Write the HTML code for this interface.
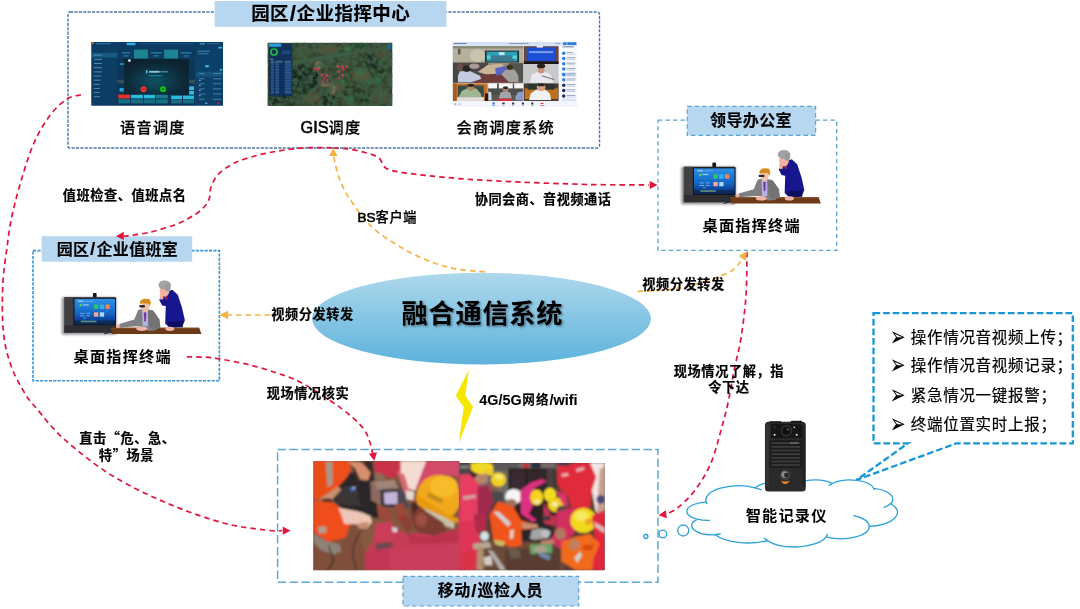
<!DOCTYPE html>
<html lang="zh-CN">
<head>
<meta charset="utf-8">
<title>融合通信系统</title>
<style>
html,body{margin:0;padding:0;background:#fff;}
body{width:1080px;height:609px;overflow:hidden;position:relative;font-family:"Liberation Sans","Noto Sans CJK SC",sans-serif;}
svg{position:absolute;left:0;top:0;}
text{font-family:"Liberation Sans","Noto Sans CJK SC",sans-serif;fill:#000;}
.cj{font-family:"Noto Sans CJK SC",sans-serif;}
.b{font-weight:bold;}
.l{font-size:13.2px;letter-spacing:0.58px;font-weight:bold;stroke:#000;stroke-width:0.2px;}
.l .la{font-size:13.6px;letter-spacing:0;}
.bs{font-weight:500;stroke-width:0.25px;}
.bs .la{font-weight:normal;stroke-width:0.6px;}
.g4 .la{font-size:14.4px;letter-spacing:0 !important;}
.m{font-size:15.2px;letter-spacing:1.2px;font-weight:bold;}
.mt{font-size:16px;letter-spacing:0.35px;font-weight:bold;stroke:#000;stroke-width:0.15px;}
.mt .la{font-size:16.3px;letter-spacing:0;}
.mt .sl{font-size:19px;letter-spacing:1.1px;}
.m5{font-size:15.2px;letter-spacing:1.2px;font-weight:500;stroke:#000;stroke-width:0.25px;}
.m5 .la{font-size:16.3px;letter-spacing:0;font-weight:normal;stroke-width:0.55px;}
.m .la{font-size:16.3px;letter-spacing:0;}
.t{font-size:18.5px;letter-spacing:0.45px;font-weight:bold;stroke:#000;stroke-width:0.15px;}
.t .la{font-size:19.2px;letter-spacing:0;}
.t .sl{font-size:22.5px;letter-spacing:0.6px;}
.m .sl{font-size:19px;letter-spacing:0.6px;}
.x{font-size:26.2px;letter-spacing:0.8px;font-weight:bold;}
.bu{font-family:"DejaVu Sans",sans-serif;font-size:21px;}
.r{font-size:15.5px;letter-spacing:0.7px;font-weight:normal;stroke:#000;stroke-width:0.2px;}
.red{fill:none;stroke:#e0143c;stroke-width:1.7;stroke-dasharray:5.5 4;}
.org{fill:none;stroke:#f6b342;stroke-width:1.7;stroke-dasharray:5.5 4;}
</style>
</head>
<body>
<svg width="1080" height="609" viewBox="0 0 1080 609">
<defs>
<linearGradient id="eg" x1="0" y1="0" x2="0" y2="1">
<stop offset="0" stop-color="#aed8ec"/>
<stop offset="1" stop-color="#5db2dc"/>
</linearGradient>
<filter id="ts" x="-10%" y="-20%" width="120%" height="150%">
<feDropShadow dx="1.3" dy="1.3" stdDeviation="1.1" flood-color="#000" flood-opacity="0.45"/>
</filter>
</defs>

<!-- BOXES -->
<g id="boxes" fill="none">
<rect x="68" y="12" width="531.5" height="136" rx="2" stroke="#4d75aa" stroke-width="1.4" stroke-dasharray="3.1 1.3"/>
<rect x="33" y="250.6" width="186.4" height="130.2" stroke="#3496d8" stroke-width="1.6" stroke-dasharray="3.1 1.3"/>
<rect x="658" y="120.1" width="178.7" height="130.3" stroke="#5ba3d0" stroke-width="1.3" stroke-dasharray="4.4 3.1"/>
<rect x="277.6" y="449.4" width="380.4" height="132.8" stroke="#5fa8da" stroke-width="1.5" stroke-dasharray="8.5 3.3"/>
</g>

<!-- TITLE BOXES -->
<rect x="214.7" y="1" width="231.7" height="25.8" fill="#b7d6f0"/>
<rect x="41.7" y="236.2" width="150.5" height="25.5" fill="#b7d6f0"/>
<rect x="687.2" y="106.4" width="128.4" height="29" fill="#b7d6f0" stroke="#5ba3d0" stroke-width="1.2" stroke-dasharray="4.5 3"/>
<rect x="403" y="576.3" width="175.7" height="29.7" fill="#b7d6f0" stroke="#5ba3d0" stroke-width="1.2" stroke-dasharray="4.5 3"/>

<!-- ELLIPSE -->
<ellipse cx="481.5" cy="318.6" rx="169.5" ry="45.8" fill="url(#eg)"/>

<!-- CALLOUT -->
<path d="M873.5 313.1 H1072.8 V443.3 H956.5 L856.4 480 L908 443.3 H873.5 Z" fill="#fff" stroke="#1797d6" stroke-width="2.3" stroke-dasharray="6.7 2.9" stroke-linejoin="miter"/>

<!-- CLOUD -->
<g fill="#fff" stroke="#2da1d8" stroke-width="1.3">
<path d="M706.0 502.0 A32.9 14.3 0 0 1 755.2 487.8 A26.0 11.3 0 0 1 796.4 485.0 A21.3 9.2 0 0 1 832.4 483.5 A23.7 10.2 0 0 1 873.7 488.3 A26.0 11.3 0 0 1 890.8 503.7 A33.0 14.3 0 0 1 869.3 526.5 A28.2 12.2 0 0 1 826.1 536.8 A32.9 14.3 0 0 1 767.3 540.6 A37.6 16.4 0 0 1 715.3 534.7 A21.2 9.2 0 0 1 697.3 519.3 A21.2 9.2 0 0 1 705.8 502.2Z"/>
<path d="M709.9 520.3 A21.2 9.2 0 0 1 697.5 519.1 M720.8 533.8 A21.2 9.2 0 0 1 715.4 534.4 M767.3 540.3 A32.9 14.3 0 0 1 764.0 537.6 M827.5 533.6 A32.9 14.3 0 0 1 826.2 536.6 M853.3 515.3 A28.2 12.2 0 0 1 869.1 526.4 M890.7 503.5 A26.0 11.3 0 0 1 883.6 507.7 M873.7 488.1 A23.7 10.2 0 0 1 874.1 490.1 M828.7 485.8 A23.7 10.2 0 0 1 832.3 483.3 M794.9 487.0 A21.3 9.2 0 0 1 796.6 484.9 M755.2 487.8 A32.9 14.3 0 0 1 761.6 489.8 M707.1 504.2 A32.9 14.3 0 0 1 706.0 502.0" fill="none"/>
<circle cx="683.2" cy="530.5" r="5.5"/>
<circle cx="662.8" cy="534" r="3.8"/>
<circle cx="645.9" cy="536.5" r="2"/>
</g>

<!-- IMAGES -->
<g id="imgs">
<defs>
<filter id="bl3" x="-5%" y="-5%" width="110%" height="110%"><feGaussianBlur stdDeviation="3"/></filter>
<filter id="bl5" x="-5%" y="-5%" width="110%" height="110%"><feGaussianBlur stdDeviation="4"/></filter>
<filter id="bl6" x="-5%" y="-5%" width="110%" height="110%"><feGaussianBlur stdDeviation="5"/></filter>
<filter id="bl12" x="-5%" y="-5%" width="110%" height="110%"><feGaussianBlur stdDeviation="10"/></filter>
<filter id="bl2" x="-5%" y="-5%" width="110%" height="110%"><feGaussianBlur stdDeviation="2.2"/></filter>
<filter id="noise" x="0" y="0" width="100%" height="100%"><feTurbulence type="fractalNoise" baseFrequency="0.025" numOctaves="3" seed="7"/><feColorMatrix type="matrix" values="0 0 0 0 0.05  0 0 0 0 0.11  0 0 0 0 0.06  3.2 0 0 0 -1.0"/></filter>
<filter id="msh" x="-15%" y="-15%" width="130%" height="130%"><feGaussianBlur stdDeviation="9"/></filter>
</defs>
<!-- voice dispatch screenshot -->
<clipPath id="cv"><rect x="40" y="30" width="1002" height="485"/></clipPath>
<g transform="translate(86 38) scale(0.13148)" clip-path="url(#cv)">
<g filter="url(#bl3)">
<rect x="20" y="10" width="1042" height="525" fill="#0b3558"/>
<rect x="40" y="30" width="1002" height="32" fill="#0a3a66"/>
<rect x="40" y="62" width="198" height="453" fill="#0c3c64"/>
<rect x="830" y="62" width="212" height="453" fill="#0c3f68"/>
<rect x="238" y="62" width="592" height="100" fill="#0b3a60"/>
<rect x="310" y="36" width="66" height="20" rx="4" fill="#2fb0dc"/>
<rect x="75" y="38" width="115" height="10" fill="#2d6fa3"/>
<rect x="400" y="40" width="420" height="9" fill="#1d5580" opacity=".8"/>
<rect x="865" y="38" width="40" height="12" fill="#3c8ab8"/>
<rect x="920" y="40" width="100" height="8" fill="#2a6a98"/>
<rect x="40" y="113" width="198" height="36" fill="#155a80"/>
<g fill="#4a86ad"><rect x="60" y="126" width="62" height="9"/><rect x="60" y="158" width="62" height="8"/><rect x="60" y="190" width="62" height="8"/><rect x="60" y="222" width="62" height="8"/><rect x="60" y="254" width="62" height="8"/><rect x="60" y="285" width="55" height="8"/><rect x="60" y="317" width="50" height="8"/><rect x="60" y="349" width="45" height="8"/><rect x="60" y="380" width="45" height="8"/><rect x="60" y="410" width="45" height="8"/><rect x="60" y="442" width="45" height="8"/></g>
<rect x="365" y="88" width="106" height="68" fill="#1c8391"/>
<rect x="594" y="88" width="106" height="68" fill="#1c8391"/>
<g fill="#2f7fae"><rect x="275" y="108" width="60" height="10"/><rect x="285" y="132" width="40" height="9"/><rect x="495" y="108" width="80" height="10"/><rect x="515" y="132" width="40" height="9"/><rect x="722" y="108" width="82" height="10"/><rect x="742" y="132" width="40" height="9"/></g>
<rect x="238" y="318" width="592" height="26" fill="#35505a"/>
<radialGradient id="vg" cx="0.48" cy="0.62" r="0.6"><stop offset="0" stop-color="#0f5263"/><stop offset="0.6" stop-color="#0a3040"/><stop offset="1" stop-color="#08222e"/></radialGradient>
<rect x="290" y="160" width="492" height="272" fill="url(#vg)"/>
<rect x="455" y="244" width="14" height="26" rx="6" fill="#3ec0e0"/>
<rect x="480" y="250" width="80" height="14" fill="#8fc4d8"/>
<rect x="565" y="252" width="58" height="10" fill="#4d90a8"/>
<rect x="476" y="282" width="104" height="9" fill="#1f7f9c"/>
<circle cx="330" cy="172" r="11" fill="#dfe6ea"/>
<rect x="258" y="190" width="32" height="16" fill="#1c7fb2"/>
<rect x="255" y="380" width="32" height="28" fill="#2a9fd0"/>
<circle cx="438" cy="390" r="23" fill="#ea3230"/>
<circle cx="586" cy="390" r="23" fill="#12c418"/>
<rect x="428" y="386" width="20" height="7" rx="3" fill="#b01818"/>
<rect x="576" y="383" width="20" height="14" rx="5" fill="#0a8a10"/>
<rect x="785" y="368" width="36" height="28" fill="#2ec0e0"/>
<rect x="785" y="402" width="36" height="28" fill="#2ec0e0"/>
<rect x="245" y="430" width="90" height="30" fill="#e8302c"/>
<rect x="342" y="432" width="91" height="27" fill="#2bbcdc"/>
<rect x="440" y="432" width="86" height="27" fill="#2bbcdc"/>
<rect x="532" y="432" width="90" height="27" fill="#1b7c8c"/>
<rect x="648" y="438" width="82" height="28" fill="#2bbcdc"/>
<rect x="738" y="438" width="83" height="28" fill="#2bbcdc"/>
<g fill="#15707f"><rect x="245" y="466" width="90" height="32"/><rect x="342" y="466" width="91" height="32"/><rect x="440" y="466" width="86" height="32"/><rect x="532" y="466" width="90" height="32"/><rect x="648" y="472" width="82" height="26"/><rect x="738" y="472" width="83" height="26"/></g>
<rect x="835" y="255" width="207" height="40" fill="#15537a"/>
<rect x="905" y="208" width="30" height="14" rx="6" fill="#3cc0e0"/>
<rect x="1005" y="66" width="30" height="14" rx="4" fill="#2fb0dc"/>
<rect x="1018" y="234" width="18" height="16" fill="#2fa0d0"/>
<g fill="#3f7fa6"><rect x="850" y="96" width="90" height="9"/><rect x="850" y="116" width="80" height="7"/><rect x="860" y="266" width="40" height="8"/><rect x="965" y="266" width="65" height="8"/><rect x="860" y="306" width="40" height="8"/><rect x="965" y="306" width="65" height="8"/><rect x="860" y="344" width="40" height="8"/><rect x="965" y="344" width="65" height="8"/><rect x="860" y="383" width="40" height="8"/><rect x="965" y="383" width="65" height="8"/><rect x="860" y="422" width="50" height="8"/><rect x="965" y="422" width="65" height="8"/><rect x="860" y="462" width="40" height="8"/><rect x="965" y="462" width="65" height="8"/></g>
<g fill="#b8d4e4"><rect x="860" y="320" width="12" height="6"/><rect x="860" y="358" width="12" height="6"/><rect x="860" y="397" width="12" height="6"/><rect x="860" y="436" width="12" height="6"/></g>
<circle cx="52" cy="40" r="8" fill="#d07a20"/>
<rect x="1002" y="490" width="10" height="12" fill="#d03040"/>
<rect x="905" y="492" width="18" height="10" fill="#3fb0e0"/>
</g>
</g>
<!-- GIS screenshot -->
<clipPath id="cg"><rect x="45" y="38" width="990" height="502"/></clipPath>
<g transform="translate(262 38) scale(0.12593)" clip-path="url(#cg)">
<rect x="45" y="38" width="990" height="502" fill="#34432e"/>
<g filter="url(#bl12)">
<rect x="45" y="38" width="990" height="502" fill="#34432e"/>
<ellipse cx="340" cy="320" rx="120" ry="110" fill="#13261b"/>
<ellipse cx="300" cy="400" rx="90" ry="70" fill="#1a3020"/>
<ellipse cx="150" cy="500" rx="110" ry="50" fill="#1c2c1e"/>
<ellipse cx="880" cy="200" rx="60" ry="85" fill="#1a2e20"/>
<ellipse cx="950" cy="270" rx="50" ry="40" fill="#22341f"/>
<ellipse cx="510" cy="500" rx="95" ry="50" fill="#182a1c"/>
<ellipse cx="780" cy="60" rx="55" ry="25" fill="#1f4a2a"/>
<ellipse cx="700" cy="420" rx="90" ry="50" fill="#22361f"/>
<ellipse cx="800" cy="470" rx="60" ry="40" fill="#1e3a22"/>
<ellipse cx="520" cy="95" rx="80" ry="40" fill="#5c5038"/>
<ellipse cx="330" cy="110" rx="70" ry="40" fill="#445034"/>
<ellipse cx="790" cy="300" rx="70" ry="50" fill="#5e5238"/>
<ellipse cx="600" cy="390" rx="60" ry="40" fill="#5e503a"/>
<ellipse cx="400" cy="480" rx="70" ry="35" fill="#5e4a34"/>
<ellipse cx="960" cy="120" rx="60" ry="50" fill="#4c4e34"/>
<ellipse cx="940" cy="470" rx="80" ry="50" fill="#484e34"/>
<ellipse cx="450" cy="215" rx="25" ry="25" fill="#b09a6a"/>
<ellipse cx="560" cy="400" rx="20" ry="50" fill="#8a7a5a"/>
<ellipse cx="500" cy="370" rx="40" ry="14" fill="#8a7458"/>
<ellipse cx="775" cy="268" rx="25" ry="28" fill="#2c8a4c"/>
<ellipse cx="850" cy="345" rx="25" ry="18" fill="#2a8048"/>
<ellipse cx="915" cy="335" rx="30" ry="22" fill="#2a7a44"/>
<ellipse cx="700" cy="490" rx="30" ry="35" fill="#2a7040"/>
<ellipse cx="640" cy="345" rx="18" ry="14" fill="#2f8a4a"/>
<ellipse cx="680" cy="85" rx="30" ry="20" fill="#3a7a4a"/>
<path d="M250 195 C400 170 520 150 720 118" stroke="#3f6e58" stroke-width="18" fill="none"/>
<ellipse cx="680" cy="200" rx="60" ry="35" fill="#404a32"/>
</g>
<rect x="45" y="38" width="990" height="502" filter="url(#noise)" opacity=".9"/>
<g filter="url(#bl3)">
<rect x="55" y="45" width="185" height="418" fill="#0c2e5c" opacity=".9"/>
<rect x="55" y="45" width="97" height="24" fill="#2b9fe4"/>
<circle cx="95" cy="111" r="25" fill="none" stroke="#1fd63a" stroke-width="11"/>
<rect x="155" y="98" width="70" height="30" fill="#1d4a7a"/>
<g fill="#6a9ac8"><rect x="62" y="163" width="28" height="8"/><rect x="70" y="184" width="25" height="9"/><rect x="105" y="184" width="60" height="8"/><rect x="180" y="184" width="50" height="8"/></g>
<g fill="#35639a" opacity=".9"><rect x="70" y="200" width="25" height="240"/><rect x="105" y="200" width="30" height="240"/><rect x="180" y="200" width="52" height="240"/></g>
<g fill="#0c2e5c" opacity=".75"><rect x="60" y="213" width="178" height="9"/><rect x="60" y="235" width="178" height="9"/><rect x="60" y="257" width="178" height="9"/><rect x="60" y="279" width="178" height="9"/><rect x="60" y="301" width="178" height="9"/><rect x="60" y="323" width="178" height="9"/><rect x="60" y="345" width="178" height="9"/><rect x="60" y="367" width="178" height="9"/><rect x="60" y="389" width="178" height="9"/><rect x="60" y="411" width="178" height="9"/></g>
<rect x="995" y="45" width="30" height="50" fill="#1c6a9a" opacity=".9"/>
<g fill="#ec3450"><circle cx="422" cy="245" r="11"/><circle cx="446" cy="252" r="9"/><circle cx="475" cy="292" r="10"/><circle cx="515" cy="298" r="11"/><circle cx="495" cy="320" r="9"/><circle cx="481" cy="348" r="9"/><circle cx="518" cy="335" r="9"/><circle cx="600" cy="227" r="10"/><circle cx="638" cy="228" r="10"/><circle cx="672" cy="226" r="9"/><circle cx="646" cy="250" r="10"/><circle cx="611" cy="268" r="9"/><circle cx="640" cy="296" r="9"/><circle cx="612" cy="320" r="9"/></g>
</g>
</g>
<!-- conference screenshot -->
<clipPath id="cc"><rect x="48" y="30" width="992" height="518"/></clipPath>
<g transform="translate(446 38) scale(0.12593)" clip-path="url(#cc)">
<rect x="48" y="30" width="992" height="518" fill="#eef2fa"/>
<g filter="url(#bl5)">
<rect x="28" y="10" width="1032" height="558" fill="#eef2fa"/>
<rect x="48" y="30" width="992" height="32" fill="#d4e0f6"/>
<rect x="930" y="33" width="28" height="22" rx="3" fill="#2b7be0"/>
<rect x="963" y="33" width="72" height="22" rx="3" fill="#2b7be0"/>
<rect x="62" y="40" width="100" height="8" fill="#6a7a98"/>
<rect x="500" y="40" width="155" height="8" fill="#8a98b4"/>
<rect x="865" y="40" width="40" height="7" fill="#a0acc4"/>
<!-- main video -->
<rect x="55" y="65" width="558" height="290" fill="#8f8c7c"/>
<rect x="55" y="65" width="558" height="135" fill="#b4b09c"/>
<ellipse cx="250" cy="140" rx="60" ry="50" fill="#c8c4b0"/>
<rect x="55" y="65" width="558" height="18" fill="#8a8878"/>
<rect x="310" y="100" width="270" height="95" fill="#1f2a30"/>
<rect x="322" y="108" width="245" height="78" fill="#2aa0b4"/>
<rect x="350" y="140" width="190" height="46" fill="#3a7a90"/>
<rect x="420" y="112" width="45" height="24" fill="#bfe6ee"/>
<rect x="325" y="138" width="30" height="28" fill="#56d0d8"/>
<rect x="528" y="138" width="36" height="28" fill="#56d0d8"/>
<rect x="55" y="195" width="280" height="160" fill="#4a4644"/>
<rect x="500" y="200" width="113" height="155" fill="#55524e"/>
<polygon points="250,270 330,215 440,205 470,230 360,300" fill="#c9b494"/>
<polygon points="230,300 360,285 520,290 560,355 230,355" fill="#6e3a38"/>
<polygon points="390,240 470,222 490,270 400,300" fill="#5a62c4"/>
<polygon points="95,300 110,265 190,262 270,300 280,325 200,352 95,352" fill="#c4cae0"/>
<ellipse cx="165" cy="245" rx="32" ry="24" fill="#2a2624"/>
<polygon points="440,290 470,255 545,250 575,300 575,352 500,352" fill="#a0a09c"/>
<ellipse cx="505" cy="232" rx="25" ry="20" fill="#3a3028"/>
<ellipse cx="110" cy="230" rx="22" ry="30" fill="#6a5048"/>
<ellipse cx="225" cy="225" rx="40" ry="22" fill="#a89a94"/>
<rect x="95" y="85" width="20" height="45" fill="#5a5850"/>
<!-- top-right -->
<rect x="618" y="65" width="276" height="142" fill="#6c4434"/>
<rect x="640" y="74" width="230" height="112" fill="#1e50d4"/>
<rect x="660" y="104" width="190" height="16" fill="#7a9aea"/>
<rect x="720" y="62" width="50" height="14" fill="#e8eef8"/>
<rect x="618" y="185" width="276" height="22" fill="#1f1518"/>
<!-- mid-right -->
<rect x="618" y="207" width="276" height="153" fill="#c9c9cb"/>
<polygon points="668,355 680,290 720,272 800,272 835,295 850,355" fill="#e8e8ee"/>
<ellipse cx="755" cy="250" rx="28" ry="32" fill="#c4957c"/>
<ellipse cx="755" cy="222" rx="33" ry="18" fill="#252020"/>
<path d="M760 300 L860 330" stroke="#444" stroke-width="6"/>
<!-- bottom-left -->
<rect x="55" y="360" width="276" height="140" fill="#c6722a"/>
<rect x="95" y="378" width="205" height="95" rx="12" fill="#3c4c44"/>
<polygon points="100,470 125,420 170,400 240,402 275,440 285,475" fill="#9bb892"/>
<ellipse cx="197" cy="392" rx="26" ry="28" fill="#b48868"/>
<ellipse cx="197" cy="375" rx="27" ry="12" fill="#2a2420"/>
<rect x="85" y="470" width="215" height="30" fill="#e4dcd8"/>
<rect x="55" y="360" width="30" height="140" fill="#a85c20"/>
<!-- bottom-mid -->
<rect x="335" y="360" width="278" height="140" fill="#5a5854"/>
<rect x="335" y="360" width="70" height="42" fill="#f6f6f4"/>
<rect x="420" y="360" width="110" height="42" fill="#f6f6f4"/>
<rect x="542" y="360" width="71" height="42" fill="#f6f6f4"/>
<rect x="335" y="402" width="278" height="50" fill="#4c4e4c"/>
<polygon points="420,480 432,432 470,420 510,432 522,480" fill="#a2a6aa"/>
<ellipse cx="473" cy="408" rx="22" ry="22" fill="#b08870"/>
<ellipse cx="473" cy="396" rx="22" ry="10" fill="#2a2622"/>
<polygon points="335,425 360,430 362,495 335,495" fill="#d8d8d8"/>
<polygon points="550,470 570,430 613,425 613,495 555,495" fill="#8a9cc4"/>
<rect x="410" y="482" width="112" height="18" fill="#d43030"/>
<rect x="310" y="440" width="25" height="60" fill="#1c1a1a"/>
<!-- bottom-right -->
<rect x="618" y="360" width="276" height="140" fill="#4a3a30"/>
<rect x="625" y="400" width="265" height="85" fill="#c0701e"/>
<rect x="650" y="365" width="210" height="45" fill="#2c3430"/>
<polygon points="660,492 672,440 715,410 790,410 825,440 835,492" fill="#f2f2f2"/>
<ellipse cx="755" cy="392" rx="34" ry="30" fill="#d8a080"/>
<ellipse cx="755" cy="372" rx="30" ry="12" fill="#2a2220"/>
<!-- sidebar -->
<rect x="900" y="62" width="140" height="445" fill="#f8fafe"/>
<rect x="915" y="274" width="120" height="32" fill="#cfe0fa"/>
<g fill="#2f7fe2"><circle cx="935" cy="121" r="14"/><circle cx="935" cy="162" r="14"/><circle cx="935" cy="205" r="14"/><circle cx="935" cy="247" r="14"/><circle cx="935" cy="290" r="14"/><circle cx="935" cy="331" r="14"/></g>
<g fill="#1c2e62"><circle cx="935" cy="375" r="14"/><circle cx="935" cy="417" r="14"/><circle cx="935" cy="461" r="14"/></g>
<g fill="#8a96b0"><rect x="958" y="112" width="50" height="7"/><rect x="958" y="153" width="70" height="7"/><rect x="958" y="196" width="70" height="7"/><rect x="958" y="238" width="70" height="7"/><rect x="958" y="281" width="70" height="7"/><rect x="958" y="322" width="70" height="7"/><rect x="958" y="366" width="70" height="7"/><rect x="958" y="408" width="70" height="7"/><rect x="958" y="452" width="70" height="7"/></g>
<g fill="#b4bed4"><rect x="958" y="126" width="70" height="6"/><rect x="958" y="167" width="70" height="6"/><rect x="958" y="210" width="70" height="6"/><rect x="958" y="252" width="70" height="6"/><rect x="958" y="295" width="70" height="6"/><rect x="958" y="336" width="70" height="6"/><rect x="958" y="380" width="70" height="6"/><rect x="958" y="422" width="70" height="6"/><rect x="958" y="466" width="70" height="6"/></g>
<rect x="925" y="66" width="90" height="8" fill="#6a7a98"/>
<rect x="920" y="482" width="115" height="20" fill="#d8e4f8"/>
<!-- toolbar -->
<rect x="48" y="505" width="992" height="43" fill="#f2f5fb"/>
<rect x="370" y="510" width="16" height="18" fill="#2b7be0"/>
<rect x="366" y="534" width="24" height="6" fill="#5a96e6"/>
<g fill="#3a3e50"><rect x="446" y="512" width="20" height="14"/><rect x="524" y="512" width="18" height="16"/><rect x="602" y="512" width="18" height="16"/><rect x="676" y="512" width="18" height="16"/></g>
<g fill="#9098a8"><rect x="446" y="534" width="20" height="5"/><rect x="524" y="534" width="18" height="5"/><rect x="602" y="534" width="18" height="5"/><rect x="676" y="534" width="18" height="5"/></g>
<rect x="752" y="516" width="22" height="8" fill="#e03030"/>
<rect x="745" y="533" width="36" height="6" fill="#e86060"/>
<rect x="68" y="520" width="12" height="10" fill="#8088a0"/>
<rect x="92" y="522" width="28" height="6" fill="#a0a8b8"/>
</g>
</g>
<!-- photo 1 -->
<clipPath id="cp1"><rect x="27" y="30" width="742" height="555"/></clipPath>
<g transform="translate(308 455) scale(0.19697)" clip-path="url(#cp1)">
<rect x="27" y="30" width="742" height="555" fill="#82523c"/>
<g filter="url(#bl6)">
<rect x="0" y="0" width="800" height="620" fill="#82523c"/>
<polygon points="27,330 300,330 300,585 27,585" fill="#80503a"/>
<ellipse cx="200" cy="540" rx="120" ry="50" fill="#80503a"/>
<polygon points="230,330 500,330 470,470 300,520" fill="#86583f"/>
<!-- dark equipment -->
<polygon points="120,120 330,60 360,320 200,300 130,230" fill="#2c2628"/>
<polygon points="215,30 330,30 330,130 250,140" fill="#3a2c2a"/>
<polygon points="130,170 260,150 270,260 150,250" fill="#3a3436"/>
<ellipse cx="225" cy="175" rx="14" ry="12" fill="#3a5a9a"/>
<ellipse cx="232" cy="168" rx="8" ry="6" fill="#a8c0e8"/>
<!-- top-left orange -->
<polygon points="27,30 205,30 218,70 200,110 150,165 60,222 27,222" fill="#ef4e1e"/>
<polygon points="88,35 125,35 125,150 100,165" fill="#a89888"/>
<polygon points="40,40 90,40 90,200 40,215" fill="#e84e18"/>
<!-- top arm skin -->
<polygon points="200,30 275,38 318,90 305,130 265,125 240,70" fill="#d88f6e"/>
<polygon points="60,222 150,160 170,175 110,240 75,250" fill="#c89070"/>
<rect x="70" y="222" width="50" height="25" fill="#2a2626"/>
<!-- left sleeve orange -->
<polygon points="27,228 120,240 160,265 215,350 190,420 100,442 27,390" fill="#ef4e1e"/>
<polygon points="50,365 90,360 95,395 55,400" fill="#b0a090"/>
<!-- forearm -->
<polygon points="155,268 250,285 315,305 325,340 300,372 260,372 250,350 185,352" fill="#eec6b8"/>
<polygon points="255,345 310,340 300,375 262,375" fill="#c88a70"/>
<!-- boot -->
<polygon points="27,400 100,440 160,450 170,490 130,505 60,480 27,440" fill="#8c8278"/>
<path d="M105 460 C120 520 150 540 95 585" stroke="#2a2422" stroke-width="6" fill="none"/>
<path d="M270 380 C230 450 210 500 250 585" stroke="#3a3030" stroke-width="6" fill="none"/>
<!-- device -->
<polygon points="315,135 440,125 470,175 465,270 380,262 320,230" fill="#8c6a60"/>
<polygon points="335,135 440,128 455,165 350,172" fill="#a08478"/>
<polygon points="368,178 465,174 465,268 372,262" fill="#2a2a32"/>
<polygon points="385,190 455,186 455,250 388,250" fill="#c4b4dc"/>
<polygon points="440,125 490,190 515,270 468,270 468,175" fill="#4a4858"/>
<polygon points="250,140 315,135 320,230 345,320 290,300 260,230" fill="#2a262a"/>
<!-- top middle reds -->
<polygon points="335,30 480,30 470,80 430,120 380,100 340,95" fill="#c8304c"/>
<polygon points="335,90 380,95 395,125 340,130" fill="#8a6a5a"/>
<polygon points="470,30 610,30 590,110 545,180 500,170 470,110" fill="#f4dcd2"/>
<polygon points="450,80 490,100 520,200 490,190" fill="#d86a70"/>
<polygon points="600,30 768,30 768,110 680,100 580,140 545,175" fill="#d2486a"/>
<polygon points="495,180 540,185 535,230 500,225" fill="#e8d8d0"/>
<!-- helmet -->
<ellipse cx="662" cy="218" rx="112" ry="118" fill="#f2a81a"/>
<ellipse cx="690" cy="160" rx="70" ry="55" fill="#f8bc2c"/>
<polygon points="545,205 600,230 700,300 760,320 765,345 690,330 600,280 550,235" fill="#e89a10"/>
<polygon points="610,190 685,225 680,248 605,212" fill="#c08a20"/>
<polygon points="590,270 680,310 745,345 740,375 670,350 600,310" fill="#c8c0a8"/>
<!-- face -->
<polygon points="545,240 600,285 690,345 700,390 640,410 560,395 525,340 520,290" fill="#7c3c30"/>
<ellipse cx="575" cy="330" rx="30" ry="35" fill="#9a5040"/>
<polygon points="520,250 550,235 560,270 530,300" fill="#4a2a28"/>
<!-- hands -->
<polygon points="350,250 400,265 430,300 420,340 380,335 355,300" fill="#9c4a3c"/>
<polygon points="440,255 480,240 500,290 495,330 460,320 445,290" fill="#9a4838"/>
<polygon points="455,320 500,300 530,370 500,390" fill="#8a4034"/>
<path d="M460 325 L498 308" stroke="#c02838" stroke-width="6"/>
<!-- jacket -->
<polygon points="290,585 290,500 330,440 345,350 420,338 440,370 500,400 560,395 640,410 768,370 768,585" fill="#c63a56"/>
<polygon points="345,350 420,338 435,370 440,420 380,450 340,430" fill="#cc3e5a"/>
<polygon points="500,400 600,420 760,380 768,440 520,450" fill="#ba304c"/>
<polygon points="340,450 420,440 435,465 350,490" fill="#6a4a50"/>
<polygon points="420,480 768,450 768,585 400,585" fill="#ca3e5c"/>
<polygon points="290,500 400,470 420,585 290,585" fill="#c23654"/>
<polygon points="425,365 455,370 450,395 430,390" fill="#d8d0e0"/>
<!-- right edge -->
<polygon points="768,95 800,95 800,620 768,620" fill="#e04070"/>
</g>
</g>
<!-- photo 2 -->
<clipPath id="cp2"><rect x="27" y="40" width="738" height="545"/></clipPath>
<g transform="translate(454 455) scale(0.19697)" clip-path="url(#cp2)">
<rect x="27" y="40" width="738" height="545" fill="#5c3c32"/>
<g filter="url(#bl6)">
<rect x="0" y="0" width="800" height="620" fill="#5c3c32"/>
<rect x="27" y="40" width="260" height="200" fill="#6c6a68"/>
<rect x="27" y="40" width="60" height="60" fill="#4a4644"/>
<rect x="200" y="40" width="340" height="40" fill="#5a5a58"/>
<rect x="330" y="40" width="180" height="25" fill="#7a6a6a"/>
<rect x="350" y="42" width="30" height="25" fill="#c03040"/>
<rect x="390" y="40" width="50" height="25" fill="#2a3040"/>
<!-- cabinet -->
<rect x="275" y="68" width="240" height="270" fill="#2a2023"/>
<rect x="290" y="80" width="70" height="95" fill="#3a2c30"/>
<rect x="375" y="80" width="80" height="95" fill="#35282c"/>
<rect x="470" y="70" width="40" height="110" fill="#4a4040"/>
<!-- ground -->
<polygon points="130,440 560,400 560,585 130,585" fill="#6a4a38"/>
<polygon points="260,480 540,470 540,585 260,585" fill="#5a3c30"/>
<rect x="345" y="330" width="160" height="110" fill="#2c2628"/>
<!-- left worker -->
<polygon points="27,100 100,95 130,130 140,300 110,420 135,500 100,585 27,585" fill="#e63c60"/>
<polygon points="27,340 110,330 135,440 120,585 27,585" fill="#de3456"/>
<polygon points="45,210 110,200 112,218 48,228" fill="#d0a0a0"/>
<ellipse cx="140" cy="118" rx="33" ry="30" fill="#b8846a"/>
<ellipse cx="100" cy="85" rx="20" ry="30" fill="#3a2a28"/>
<polygon points="82,42 185,40 200,95 150,80 90,62" fill="#f2d222"/>
<ellipse cx="142" cy="66" rx="58" ry="30" fill="#f4d828"/>
<polygon points="150,70 200,75 200,104 168,100" fill="#f0cc20"/>
<rect x="27" y="55" width="50" height="12" fill="#8a8a88"/>
<!-- second worker -->
<polygon points="120,160 190,150 205,230 170,300 160,380 120,380" fill="#a02a50"/>
<polygon points="100,300 160,300 165,390 110,390" fill="#b02c4c"/>
<ellipse cx="200" cy="160" rx="25" ry="28" fill="#8a5a48"/>
<ellipse cx="226" cy="125" rx="38" ry="36" fill="#f2d020"/>
<ellipse cx="228" cy="112" rx="22" ry="14" fill="#f8e870"/>
<polygon points="190,180 250,190 250,240 200,240" fill="#4a4848"/>
<!-- white helmet -->
<ellipse cx="303" cy="210" rx="43" ry="38" fill="#f6f6f6"/>
<ellipse cx="290" cy="245" rx="28" ry="22" fill="#a07058"/>
<!-- orange worker -->
<polygon points="180,305 225,235 300,262 340,330 400,350 400,375 340,380 345,460 290,470 200,430" fill="#f0551c"/>
<polygon points="200,290 225,285 290,345 275,365" fill="#d0d0d0"/>
<polygon points="285,380 305,380 300,425 282,425" fill="#e0d0c0"/>
<polygon points="200,430 260,440 250,465 210,455" fill="#c8c060"/>
<polygon points="340,345 420,350 430,370 350,375" fill="#c89070"/>
<polygon points="270,470 330,480 340,520 290,525" fill="#6a5a4a"/>
<!-- pink worker -->
<polygon points="335,180 390,140 450,122 470,135 410,165 400,210 400,260 380,300 420,330 400,340 340,300" fill="#da3080"/>
<ellipse cx="420" cy="215" rx="33" ry="40" fill="#f4d41c"/>
<ellipse cx="422" cy="238" rx="16" ry="12" fill="#f8e890"/>
<ellipse cx="487" cy="202" rx="32" ry="36" fill="#f4dc20"/>
<ellipse cx="517" cy="252" rx="40" ry="38" fill="#f2d01c"/>
<ellipse cx="512" cy="250" rx="15" ry="12" fill="#f8f0b0"/>
<polygon points="520,180 570,200 580,270 545,240" fill="#e03070"/>
<polygon points="455,240 490,300 480,350 455,340" fill="#c83058"/>
<ellipse cx="545" cy="285" rx="25" ry="28" fill="#5a4a48"/>
<!-- top right red workers -->
<polygon points="525,42 690,40 722,110 700,180 690,270 600,280 580,210 545,180 525,140" fill="#e22a3c"/>
<polygon points="545,95 580,90 582,105 548,112" fill="#e0b0b0"/>
<polygon points="620,70 660,60 662,75 622,88" fill="#e0b0b0"/>
<rect x="530" y="40" width="60" height="15" fill="#3a3a50"/>
<polygon points="690,40 765,40 765,290 720,290 700,180 722,110" fill="#f4e6e4"/>
<polygon points="740,70 765,60 765,300 725,300" fill="#c8a090"/>
<ellipse cx="745" cy="225" rx="22" ry="22" fill="#4a4a7a"/>
<!-- pink right-center -->
<polygon points="520,290 610,265 625,330 610,400 560,440 540,480 490,430 520,380" fill="#d22e60"/>
<polygon points="455,300 520,310 515,360 460,350" fill="#c03050"/>
<ellipse cx="470" cy="320" rx="22" ry="12" fill="#3a3a40"/>
<ellipse cx="540" cy="400" rx="28" ry="30" fill="#b0785e"/>
<polygon points="440,435 500,425 510,450 445,460" fill="#c08068"/>
<!-- big yellow helmet -->
<ellipse cx="657" cy="332" rx="66" ry="63" fill="#f2d81a"/>
<ellipse cx="645" cy="310" rx="35" ry="25" fill="#f8ea60"/>
<polygon points="665,330 705,320 700,350 670,355" fill="#e8a020"/>
<!-- red right edge -->
<polygon points="700,310 765,278 765,585 700,585 720,450" fill="#e2283c"/>
<polygon points="715,340 765,370 765,400 712,362" fill="#e0b8b8"/>
<!-- orange worker br -->
<polygon points="545,440 600,420 690,400 740,450 710,520 700,585 620,585 545,540" fill="#f26a1c"/>
<ellipse cx="610" cy="455" rx="28" ry="28" fill="#c08060"/>
<polygon points="610,520 640,490 650,510 625,550" fill="#d0d0c8"/>
<polygon points="650,460 710,455 700,485 660,485" fill="#d84a10"/>
<!-- gray + green items -->
<polygon points="395,380 445,372 490,385 480,420 410,432 385,425" fill="#a4a4a6"/>
<ellipse cx="465" cy="400" rx="22" ry="20" fill="#c0c0c4"/>
<polygon points="385,455 495,452 500,498 388,502" fill="#68a468"/>
<ellipse cx="440" cy="478" rx="35" ry="16" fill="#b0a090"/>
<polygon points="430,495 490,510 485,535 435,515" fill="#6a8ab0"/>
<!-- tripod -->
<ellipse cx="155" cy="412" rx="22" ry="24" fill="#cfe4e4"/>
<polygon points="95,450 180,440 190,470 100,480" fill="#b8a890"/>
<polygon points="120,470 150,470 150,585 115,585" fill="#b09070"/>
<polygon points="170,480 200,490 265,585 235,585" fill="#b0aca8"/>
<polygon points="150,520 190,510 195,560 155,560" fill="#d0ccc4"/>
<polygon points="40,500 100,480 110,560 50,585" fill="#d8304a"/>
</g>
<!-- left sliver (part of photo 1 edge) -->
</g>
<!-- desk terminal clipart -->
<defs>
<linearGradient id="scr" x1="0" y1="0" x2="0" y2="1"><stop offset="0" stop-color="#2f92e6"/><stop offset="0.55" stop-color="#1468c8"/><stop offset="1" stop-color="#0a2e7c"/></linearGradient>
</defs>
<g transform="translate(676 140) scale(0.14259)">
<rect x="36" y="186" width="384" height="266" rx="12" fill="#000" opacity=".4" filter="url(#msh)"/>
<g filter="url(#bl2)">
<rect x="255" y="158" width="26" height="34" rx="8" fill="#151515"/>
<rect x="55" y="188" width="362" height="248" rx="8" fill="#38383b"/>
<rect x="55" y="188" width="66" height="248" fill="#404043"/>
<rect x="118" y="192" width="298" height="194" fill="#151518"/>
<rect x="126" y="199" width="284" height="178" fill="url(#scr)"/>
<rect x="126" y="352" width="284" height="25" fill="#0c2a5a"/>
<rect x="170" y="352" width="110" height="12" fill="#5a8a7a"/>
<rect x="55" y="386" width="362" height="50" fill="#2e2e31"/>
<circle cx="170" cy="245" r="9" fill="#62d444"/>
<rect x="186" y="238" width="40" height="8" fill="#a0d0f8"/>
<rect x="150" y="212" width="40" height="8" fill="#b0d8f8"/>
<rect x="200" y="214" width="60" height="5" fill="#70b0f0"/>
<rect x="262" y="240" width="31" height="31" rx="5" fill="#2ec468"/>
<rect x="303" y="240" width="31" height="31" rx="5" fill="#32b0ee"/>
<rect x="343" y="240" width="31" height="31" rx="5" fill="#f0845a"/>
<rect x="262" y="294" width="31" height="31" rx="5" fill="#f4a696"/>
<rect x="303" y="294" width="31" height="31" rx="5" fill="#a8d6f6"/>
<g fill="#7ab8f0"><rect x="165" y="298" width="32" height="6"/><rect x="208" y="298" width="28" height="6"/><rect x="165" y="316" width="32" height="6"/><rect x="208" y="316" width="28" height="6"/><rect x="188" y="332" width="20" height="5"/></g>
<!-- desk -->
<polygon points="382,402 1000,402 1016,446 386,446" fill="#6b3a18"/>
<polygon points="382,402 1000,402 1003,410 383,410" fill="#7c4822"/>
<path d="M335 445 L385 432" stroke="#222" stroke-width="7"/>
<!-- seated man -->
<polygon points="440,376 545,345 572,278 610,268 675,280 718,340 728,398 690,422 640,425 625,398 560,392 440,402" fill="#808082"/>
<polygon points="600,285 642,285 640,392 605,392" fill="#b4b4e4"/>
<polygon points="612,295 629,295 627,355 616,360" fill="#7c2ea0"/>
<polygon points="640,285 680,285 722,345 728,400 690,420 650,395" fill="#737375"/>
<ellipse cx="622" cy="258" rx="28" ry="32" fill="#f0c0a0"/>
<polygon points="585,215 610,198 650,200 662,225 655,250 640,232 600,232 588,240" fill="#d48c1e"/>
<rect x="580" y="243" width="40" height="17" rx="6" fill="#2c2c3c"/>
<ellipse cx="598" cy="410" rx="40" ry="15" fill="#f2b4a4"/>
<ellipse cx="430" cy="390" rx="13" ry="13" fill="#f2b4a4"/>
<!-- standing man -->
<polygon points="720,205 745,175 775,148 812,135 850,170 880,262 900,350 882,396 790,400 762,372 766,250 740,246" fill="#17178e"/>
<polygon points="780,360 885,355 885,398 790,400" fill="#0f0f60"/>
<polygon points="762,160 780,155 775,205 764,200" fill="#c02040"/>
<ellipse cx="757" cy="145" rx="34" ry="40" fill="#f2b2a2"/>
<polygon points="722,170 745,160 750,200 728,205" fill="#f2b2a2"/>
<ellipse cx="758" cy="102" rx="44" ry="32" fill="#a2a2a4"/>
<ellipse cx="780" cy="120" rx="20" ry="25" fill="#9a9a9c"/>
<ellipse cx="795" cy="410" rx="32" ry="15" fill="#f2b4a4"/>
</g>
</g>
<g transform="translate(56.56 270.4) scale(0.14259)">
<rect x="36" y="186" width="384" height="266" rx="12" fill="#000" opacity=".4" filter="url(#msh)"/>
<g filter="url(#bl2)">
<rect x="255" y="158" width="26" height="34" rx="8" fill="#151515"/>
<rect x="55" y="188" width="362" height="248" rx="8" fill="#38383b"/>
<rect x="55" y="188" width="66" height="248" fill="#404043"/>
<rect x="118" y="192" width="298" height="194" fill="#151518"/>
<rect x="126" y="199" width="284" height="178" fill="url(#scr)"/>
<rect x="126" y="352" width="284" height="25" fill="#0c2a5a"/>
<rect x="170" y="352" width="110" height="12" fill="#5a8a7a"/>
<rect x="55" y="386" width="362" height="50" fill="#2e2e31"/>
<circle cx="170" cy="245" r="9" fill="#62d444"/>
<rect x="186" y="238" width="40" height="8" fill="#a0d0f8"/>
<rect x="150" y="212" width="40" height="8" fill="#b0d8f8"/>
<rect x="200" y="214" width="60" height="5" fill="#70b0f0"/>
<rect x="262" y="240" width="31" height="31" rx="5" fill="#2ec468"/>
<rect x="303" y="240" width="31" height="31" rx="5" fill="#32b0ee"/>
<rect x="343" y="240" width="31" height="31" rx="5" fill="#f0845a"/>
<rect x="262" y="294" width="31" height="31" rx="5" fill="#f4a696"/>
<rect x="303" y="294" width="31" height="31" rx="5" fill="#a8d6f6"/>
<g fill="#7ab8f0"><rect x="165" y="298" width="32" height="6"/><rect x="208" y="298" width="28" height="6"/><rect x="165" y="316" width="32" height="6"/><rect x="208" y="316" width="28" height="6"/><rect x="188" y="332" width="20" height="5"/></g>
<!-- desk -->
<polygon points="382,402 1000,402 1016,446 386,446" fill="#6b3a18"/>
<polygon points="382,402 1000,402 1003,410 383,410" fill="#7c4822"/>
<path d="M335 445 L385 432" stroke="#222" stroke-width="7"/>
<!-- seated man -->
<polygon points="440,376 545,345 572,278 610,268 675,280 718,340 728,398 690,422 640,425 625,398 560,392 440,402" fill="#808082"/>
<polygon points="600,285 642,285 640,392 605,392" fill="#b4b4e4"/>
<polygon points="612,295 629,295 627,355 616,360" fill="#7c2ea0"/>
<polygon points="640,285 680,285 722,345 728,400 690,420 650,395" fill="#737375"/>
<ellipse cx="622" cy="258" rx="28" ry="32" fill="#f0c0a0"/>
<polygon points="585,215 610,198 650,200 662,225 655,250 640,232 600,232 588,240" fill="#d48c1e"/>
<rect x="580" y="243" width="40" height="17" rx="6" fill="#2c2c3c"/>
<ellipse cx="598" cy="410" rx="40" ry="15" fill="#f2b4a4"/>
<ellipse cx="430" cy="390" rx="13" ry="13" fill="#f2b4a4"/>
<!-- standing man -->
<polygon points="720,205 745,175 775,148 812,135 850,170 880,262 900,350 882,396 790,400 762,372 766,250 740,246" fill="#17178e"/>
<polygon points="780,360 885,355 885,398 790,400" fill="#0f0f60"/>
<polygon points="762,160 780,155 775,205 764,200" fill="#c02040"/>
<ellipse cx="757" cy="145" rx="34" ry="40" fill="#f2b2a2"/>
<polygon points="722,170 745,160 750,200 728,205" fill="#f2b2a2"/>
<ellipse cx="758" cy="102" rx="44" ry="32" fill="#a2a2a4"/>
<ellipse cx="780" cy="120" rx="20" ry="25" fill="#9a9a9c"/>
<ellipse cx="795" cy="410" rx="32" ry="15" fill="#f2b4a4"/>
</g>
</g>
<!-- body camera -->
<g transform="translate(745 410) scale(0.14787)">
<g filter="url(#bl2)">
<rect x="135" y="80" width="276" height="472" rx="24" fill="#2b2b2c"/>
<rect x="165" y="76" width="80" height="14" rx="4" fill="#1a1a1a"/>
<rect x="310" y="72" width="75" height="18" rx="5" fill="#1a1a1a"/>
<rect x="142" y="100" width="18" height="420" fill="#353536"/>
<rect x="388" y="100" width="18" height="420" fill="#222223"/>
<rect x="175" y="95" width="212" height="96" rx="8" fill="#141415"/>
<circle cx="280" cy="140" r="40" fill="#2e2e30"/>
<circle cx="280" cy="140" r="27" fill="#101012"/>
<circle cx="290" cy="132" r="9" fill="#4a4a50"/>
<circle cx="200" cy="168" r="7" fill="#d8d8d8"/>
<circle cx="333" cy="117" r="6" fill="#d0d0d0"/>
<circle cx="350" cy="168" r="7" fill="#d8d8d8"/>
<circle cx="200" cy="117" r="7" fill="#3a3a3c"/>
<rect x="165" y="205" width="222" height="188" rx="10" fill="#1c1c1d"/>
<g fill="#3c3c3e"><rect x="178" y="218" width="196" height="12"/><rect x="178" y="243" width="196" height="12"/><rect x="178" y="268" width="196" height="12"/><rect x="178" y="293" width="196" height="12"/><rect x="178" y="318" width="196" height="12"/><rect x="178" y="343" width="196" height="12"/><rect x="178" y="366" width="196" height="12"/></g>
<rect x="305" y="218" width="55" height="10" fill="#6a6a6c"/>
<circle cx="272" cy="440" r="36" fill="#404042"/>
<circle cx="268" cy="436" r="22" fill="#8a8a8c"/>
<circle cx="280" cy="440" r="16" fill="#2a2a2c"/>
<path d="M244 476 Q272 492 302 476 Q290 500 272 500 Q254 500 244 476Z" fill="#f28c1e"/>
</g>
</g>

</g>

<!-- CURVES -->
<g id="curves">
<path class="red" d="M81.0 94.8 C78.7 95.5 72.1 95.6 67.0 99.0 C61.9 102.4 55.9 107.5 50.3 115.0 C44.7 122.5 38.6 132.2 33.5 144.0 C28.4 155.8 23.3 173.4 19.6 186.0 C15.9 198.6 13.3 209.4 11.2 219.7 C9.1 230.0 8.4 236.8 7.0 247.6 C5.6 258.4 3.4 270.6 2.8 284.7 C2.2 298.8 2.0 318.5 3.4 332.0 C4.8 345.5 7.4 355.4 11.0 365.7 C14.6 376.0 20.7 386.4 25.0 393.6 C29.3 400.8 30.5 401.4 37.0 409.0 C43.5 416.6 51.5 427.9 64.0 439.0 C76.5 450.1 94.4 464.7 111.7 475.4 C129.0 486.1 149.0 495.5 167.6 503.4 C186.2 511.3 207.3 518.6 223.5 523.0 C239.7 527.4 255.2 528.7 265.0 530.0 C274.8 531.3 279.2 530.6 282.0 530.7"/>
<path class="red" d="M332.0 147.8 C327.6 147.8 314.2 147.3 305.6 147.8 C297.0 148.3 288.9 149.3 280.6 150.6 C272.3 151.9 263.5 153.6 255.6 155.8 C247.7 158.0 239.6 160.4 233.3 163.6 C227.0 166.8 221.7 170.8 218.0 174.7 C214.3 178.6 212.4 183.5 211.0 187.2 C209.6 190.9 210.6 194.0 209.7 197.0 C208.8 200.0 208.1 202.3 205.6 205.3 C203.1 208.3 199.5 211.8 194.4 215.0 C189.3 218.2 182.4 221.8 175.0 224.7 C167.6 227.6 157.9 230.3 150.0 232.2 C142.1 234.0 132.1 235.2 127.8 235.8 C123.5 236.4 124.6 236.0 124.0 236.0"/>
<path class="red" d="M333.3 148.0 C335.6 148.2 342.1 148.2 347.2 148.9 C352.3 149.6 358.8 150.8 363.9 152.2 C369.0 153.5 374.7 155.2 377.8 157.0 C380.9 158.8 381.1 161.4 382.5 163.3 C383.9 165.2 383.6 166.9 386.0 168.3 C388.4 169.7 390.7 170.5 397.2 171.7 C403.7 172.9 413.4 174.1 425.0 175.3 C436.6 176.6 450.5 178.0 466.7 179.2 C482.9 180.3 503.7 181.4 522.2 182.2 C540.7 183.0 564.8 183.8 577.8 184.2 C590.8 184.6 588.1 184.6 600.0 184.7 C611.9 184.8 640.8 184.9 649.0 185.0"/>
<path class="red" d="M186.7 357.0 C189.8 357.0 199.7 356.8 205.6 357.2 C211.5 357.6 214.8 358.1 222.2 359.4 C229.6 360.7 240.7 362.7 250.0 365.0 C259.3 367.3 269.5 370.5 277.8 373.3 C286.1 376.1 291.3 377.5 300.0 382.0 C308.7 386.5 321.3 394.7 330.0 400.5 C338.7 406.3 346.3 412.1 352.0 417.0 C357.7 421.9 361.4 425.8 364.4 430.0 C367.4 434.2 368.4 438.2 369.8 442.0 C371.2 445.8 372.1 451.2 372.6 453.0"/>
<path class="red" d="M747.0 252.0 C746.8 259.3 747.0 281.4 746.0 295.7 C745.0 310.0 742.9 325.9 741.0 338.0 C739.1 350.1 736.7 357.7 734.6 368.0 C732.5 378.3 730.8 390.0 728.6 400.0 C726.5 410.0 724.7 417.2 721.7 427.8 C718.7 438.4 715.2 453.2 710.6 463.9 C706.0 474.5 699.5 484.3 693.9 491.7 C688.3 499.1 681.5 504.6 677.0 508.3 C672.5 512.0 668.7 512.7 667.0 513.6"/>
<path class="org" d="M484.7 271.7 C479.9 271.2 465.1 270.8 455.6 268.9 C446.1 267.0 437.1 264.3 427.8 260.6 C418.5 256.9 409.3 252.3 400.0 246.7 C390.7 241.1 380.5 235.1 372.2 227.2 C363.9 219.3 355.6 207.7 350.0 199.4 C344.4 191.1 341.6 184.4 338.9 177.2 C336.2 170.0 334.5 159.5 333.6 156.0"/>
<path class="org" d="M270 315 L227 315"/>
<path class="org" d="M637.8 291.4 C643.2 291.1 659.6 290.9 670.0 289.5 C680.4 288.1 689.8 286.1 700.0 283.0 C710.2 279.9 724.3 275.0 731.3 271.0 C738.3 267.0 740.2 261.0 742.0 259.0"/>
<polygon points="290.5,530.7 282.7,534.8 282.7,526.6" fill="#e0143c"/>
<polygon points="116.0,236.2 123.7,231.8 123.9,240.0" fill="#e0143c"/>
<polygon points="657.5,185.0 649.7,189.1 649.7,180.9" fill="#e0143c"/>
<polygon points="374.3,460.7 368.9,453.7 377.0,452.3" fill="#e0143c"/>
<polygon points="658.6,515.3 665.8,510.2 666.9,518.3" fill="#e0143c"/>
<polygon points="333.3,148.0 337.5,156.0 329.1,156.0" fill="#f6b342"/>
<polygon points="219.6,315.0 228.1,310.8 228.1,319.2" fill="#f6b342"/>
<polygon points="747.0,251.3 745.6,260.7 738.7,255.9" fill="#f6b342"/>
</g>

<!-- LIGHTNING -->
<polygon points="468.7,370 455.8,395.8 463.7,407 458.7,443.3 473,407 465.3,395.8" fill="#f6e600"/>

<!-- TEXT -->
<g id="texts">
<text x="330.7" y="20.2" text-anchor="middle" class="t">园区<tspan class="la sl" dx="0.6" dy="0.8">/</tspan><tspan dy="-0.8">企业指挥中心</tspan></text>
<text x="117.5" y="254.6" text-anchor="middle" class="mt">园区<tspan class="la sl" dx="0.6" dy="0.8">/</tspan><tspan dy="-0.8">企业值班室</tspan></text>
<text x="751" y="125.6" text-anchor="middle" class="mt">领导办公室</text>
<text x="490.4" y="596.4" text-anchor="middle" class="mt">移动<tspan class="la sl" dx="0.6" dy="0.8">/</tspan><tspan dy="-0.8">巡检人员</tspan></text>
<text x="152.9" y="132.6" text-anchor="middle" class="m5">语音调度</text>
<text x="330.9" y="132.6" text-anchor="middle" class="m5"><tspan class="la">GIS</tspan>调度</text>
<text x="505.7" y="132.6" text-anchor="middle" class="m5">会商调度系统</text>
<text x="751.7" y="231.4" text-anchor="middle" class="m">桌面指挥终端</text>
<text x="122.7" y="361.9" text-anchor="middle" class="m">桌面指挥终端</text>
<text x="786.6" y="521.3" text-anchor="middle" class="m">智能记录仪</text>
<text x="482.4" y="323" text-anchor="middle" class="x" filter="url(#ts)">融合通信系统</text>
<text x="124.7" y="200" text-anchor="middle" class="l">值班检查、值班点名</text>
<text x="387.2" y="222.3" text-anchor="middle" class="l bs"><tspan class="la">BS</tspan>客户端</text>
<text x="474.8" y="203.5" class="l" style="letter-spacing:0.47px">协同会商、音视频通话</text>
<text x="312.5" y="318.7" text-anchor="middle" class="l">视频分发转发</text>
<text x="683.6" y="288.6" text-anchor="middle" class="l">视频分发转发</text>
<text x="308" y="398" text-anchor="middle" class="l">现场情况核实</text>
<text x="479.3" y="404.8" class="l g4" style="stroke-width:0.1px"><tspan class="la">4G/5G</tspan><tspan dy="-0.8" dx="0.6" style="font-size:12.6px;letter-spacing:1px">网络</tspan><tspan class="la" dy="0.8">/wifi</tspan></text>
<text x="127.4" y="443" text-anchor="middle" class="l">直击<tspan class="cj">“</tspan>危、急、</text>
<text x="126.4" y="460" text-anchor="middle" class="l">特<tspan class="cj">”</tspan>场景</text>
<text x="728.9" y="375.8" text-anchor="middle" class="l">现场情况了解，指</text>
<text x="728.9" y="391.7" text-anchor="middle" class="l">令下达</text>
<text x="910.8" y="342.6" class="r">操作情况音视频上传<tspan class="cj">；</tspan></text>
<text x="910.8" y="371" class="r">操作情况音视频记录<tspan class="cj">；</tspan></text>
<text x="910.8" y="400.5" class="r">紧急情况一键报警<tspan class="cj">；</tspan></text>
<text x="910.8" y="429.5" class="r">终端位置实时上报<tspan class="cj">；</tspan></text>
<text transform="translate(889.7 345.5) scale(0.9 1.32)" class="bu">➢</text>
<text transform="translate(889.7 374) scale(0.9 1.32)" class="bu">➢</text>
<text transform="translate(889.7 403.5) scale(0.9 1.32)" class="bu">➢</text>
<text transform="translate(889.7 432.5) scale(0.9 1.32)" class="bu">➢</text>
</g>
</svg>
</body>
</html>
